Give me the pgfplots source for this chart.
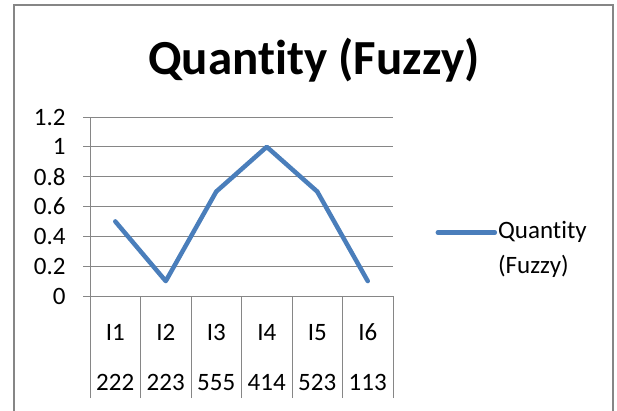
\documentclass[border=0pt]{standalone}
\usepackage{fontspec}
\setmainfont{Carlito}[Ligatures={NoCommon}]
\usepackage{pgfplots}
\pgfplotsset{compat=1.18}
\definecolor{gridgray}{RGB}{134,134,134}
\definecolor{xlblue}{RGB}{74,126,187}
\newcommand{\hs}{\rule{0pt}{19bp}}
\begin{document}
\begin{tikzpicture}[x=1bp,y=1bp]
\useasboundingbox (0,0) rectangle (617,410);
\draw[gridgray, line width=1.5bp] (14,-5) -- (14,405) -- (613,405) -- (613,-5);
\node[font=\fontsize{49bp}{58bp}\bfseries\selectfont] at (314,350) {Quantity (Fuzzy)};
\begin{axis}[
  at={(90bp,114bp)}, anchor=south west,
  scale only axis, width=303bp, height=179bp,
  xmin=0, xmax=6, ymin=0, ymax=1.2,
  axis lines*=left,
  axis line style={gridgray, line width=1bp},
  tick align=outside,
  ytick={0,0.2,0.4,0.6,0.8,1,1.2},
  yticklabels={0,0.2,0.4,0.6,0.8,1,1.2},
  ymajorgrids,
  grid style={gridgray, line width=1bp},
  ytick style={gridgray, line width=1bp, /pgfplots/major tick length=7bp},
  yticklabel style={font=\fontsize{25bp}{30bp}\selectfont, anchor=east, inner sep=0pt, xshift=-20bp},
  xtick={0,1,2,3,4,5,6},
  xticklabels={\hs I1\\222,\hs I2\\223,\hs I3\\555,\hs I4\\414,\hs I5\\523,\hs I6\\113,{}},
  xtick style={gridgray, line width=1bp, /pgfplots/major tick length=102bp},
  xticklabel style={font=\fontsize{25bp}{50bp}\selectfont, align=center, anchor=north, inner sep=0pt, xshift=25.25bp, yshift=-21bp},
  legend style={draw=none, fill=none, at={(1.13,0.257)}, anchor=west,
     font=\fontsize{25bp}{30bp}\selectfont, row sep=9bp,
     nodes={inner sep=1bp, anchor=west, text height=18bp, text depth=6bp}},
  legend cell align=left,
  legend image code/.code={\draw[#1] (0bp,0bp) -- (57bp,0bp);},
]
\addplot[xlblue, line width=4.5bp, line join=round, line cap=round] coordinates {
  (0.5,0.5) (1.5,0.1) (2.5,0.7) (3.5,1.0) (4.5,0.7) (5.5,0.1)
};
\addlegendentry{Quantity}
\addlegendimage{empty legend}
\addlegendentry{(Fuzzy)}
\end{axis}
\end{tikzpicture}
\end{document}
